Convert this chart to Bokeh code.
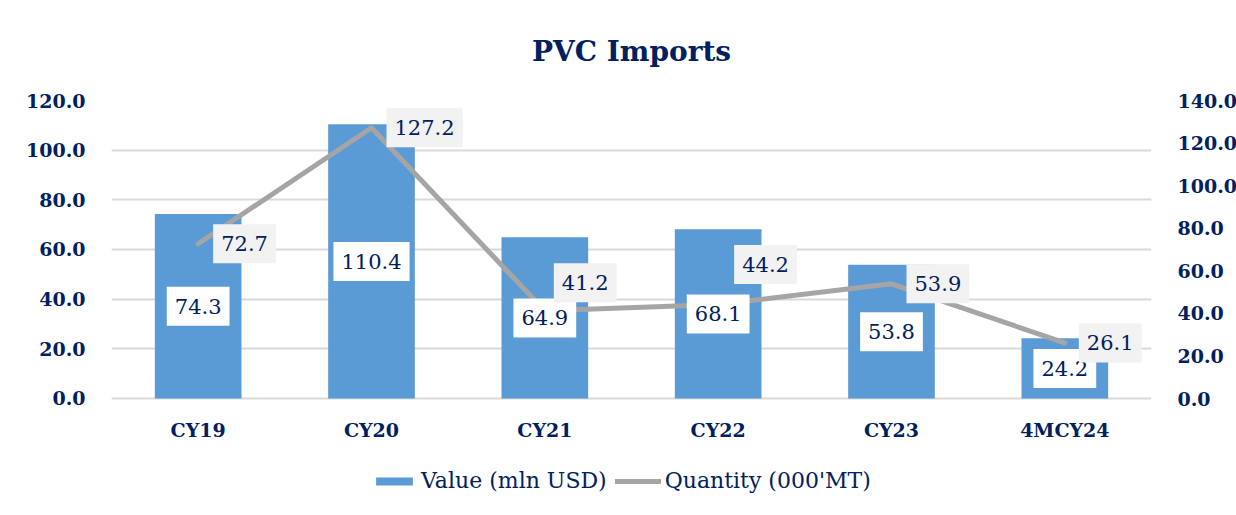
from bokeh.plotting import figure
from bokeh.models import (Range1d, LinearAxis, FixedTicker, NumeralTickFormatter,
                          Legend, LegendItem, ColumnDataSource, FactorRange)
from bokeh.core.properties import value
from bokeh.embed import file_html
from bokeh.resources import INLINE

categories = ["CY19", "CY20", "CY21", "CY22", "CY23", "4MCY24"]
value_mln_usd = [74.3, 110.4, 64.9, 68.1, 53.8, 24.2]
quantity_000mt = [72.7, 127.2, 41.2, 44.2, 53.9, 26.1]
left_ticks = [0, 20, 40, 60, 80, 100, 120]
right_ticks = [0, 20, 40, 60, 80, 100, 120, 140]

# label offsets (screen px) for the quantity labels
qty_x_off = [15, 15, 9, 16, 15, 14]
qty_y_off = [0, 0, -28, -40, 0, 0]

NAVY = "#002060"
FONT = "DejaVu Serif"

# the frame reaches down to the legend row; value 0 sits 102 px above its bottom
p = figure(x_range=FactorRange(*categories, range_padding=0),
           y_range=Range1d(-41.1, 120),
           frame_width=1040, frame_height=400,
           output_backend="svg", toolbar_location=None,
           min_border_left=111, min_border_right=85,
           min_border_top=100, min_border_bottom=15,
           title="PVC Imports")
p.extra_y_ranges = {"right": Range1d(-47.9, 140)}

p.title.align = "center"
p.title.text_font = FONT
p.title.text_font_size = "28px"
p.title.text_font_style = "bold"
p.title.text_color = NAVY
p.title.offset = 0
p.title.standoff = 65

p.outline_line_color = None

# axes
p.yaxis.ticker = FixedTicker(ticks=left_ticks)
p.yaxis.formatter = NumeralTickFormatter(format="0.0")
ra = LinearAxis(y_range_name="right", ticker=FixedTicker(ticks=right_ticks),
                formatter=NumeralTickFormatter(format="0.0"))
p.add_layout(ra, "right")

for ax in [p.yaxis[0], ra, p.xaxis[0]]:
    ax.axis_line_color = None
    ax.major_tick_line_color = None
    ax.minor_tick_line_color = None
    ax.major_label_text_font = FONT
    ax.major_label_text_font_size = "19px"
    ax.major_label_text_font_style = "bold"
    ax.major_label_text_color = NAVY
p.yaxis[0].major_label_standoff = 20
ra.major_label_standoff = 20
p.xaxis[0].major_label_standoff = -88

p.xgrid.grid_line_color = None
p.ygrid.grid_line_color = "#D9D9D9"
p.ygrid.grid_line_width = 2

src = ColumnDataSource(dict(cat=categories, val=value_mln_usd,
                            half=[v / 2 for v in value_mln_usd],
                            qty=quantity_000mt,
                            vlab=[f"{v:.1f}" for v in value_mln_usd],
                            qlab=[f"{q:.1f}" for q in quantity_000mt],
                            qxo=qty_x_off, qyo=qty_y_off))

bars = p.vbar(x="cat", top="val", bottom=0, width=0.5, source=src,
              fill_color="#5B9BD5", line_color=None)
line = p.line(x="cat", y="qty", source=src, y_range_name="right",
              line_color="#A5A5A5", line_width=5, line_cap="round", line_join="round")

pad = dict(left=8, right=8, top=12, bottom=12)
p.text(x="cat", y="half", text="vlab", source=src,
       text_font=value(FONT), text_font_size="21px", text_color=NAVY,
       text_align="center", text_baseline="middle",
       background_fill_color="white", padding=pad)

p.text(x="cat", y="qty", text="qlab", source=src, y_range_name="right",
       x_offset="qxo", y_offset="qyo",
       text_font=value(FONT), text_font_size="21px", text_color=NAVY,
       text_align="left", text_baseline="middle",
       background_fill_color="#F2F2F2", padding=pad)

legend = Legend(items=[LegendItem(label="Value (mln USD)", renderers=[bars]),
                       LegendItem(label="Quantity (000'MT)", renderers=[line])],
                orientation="horizontal", location=(260, 7),
                label_text_font=FONT, label_text_font_size="22px",
                label_text_color=NAVY, glyph_width=46, glyph_height=10,
                label_standoff=4, spacing=8, border_line_color=None,
                background_fill_alpha=0, margin=0, padding=3)
p.add_layout(legend)

open("out.html", "w").write(file_html(p, INLINE))
